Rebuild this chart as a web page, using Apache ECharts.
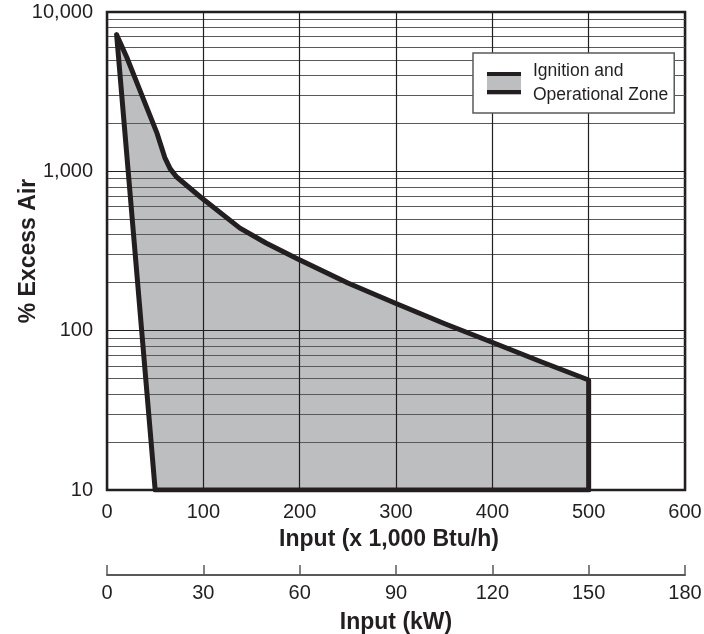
<!DOCTYPE html>
<html>
<head>
<meta charset="utf-8">
<script src="https://cdn.jsdelivr.net/npm/echarts@6/dist/echarts.min.js"></script>
<style>
html, body { margin: 0; padding: 0; background: #fff; }
#chart { width: 704px; height: 634px; }
</style>
</head>
<body>
<div id="chart"></div>
<script>
// upper boundary of the zone (x = 1,000 Btu/h, y = % excess air)
var zoneTopX = [10, 20.5, 31, 41, 52, 60, 65.5, 72, 97, 138, 165, 197, 250, 300, 350, 401, 450, 500];
var zoneTopY = [7200, 5200, 3600, 2540, 1730, 1220, 1040, 925, 690, 440, 355, 284, 199, 148, 111, 84, 64, 49];
// lower boundary, going back to the left
var zoneBottomX = [500, 50];
var zoneBottomY = [10, 10];

var btuMin = 0, btuMax = 600, btuStep = 100;
var kwMin = 0, kwMax = 180, kwStep = 30;
var airMin = 10, airMax = 10000;

var zoneName = 'Ignition and\nOperational Zone';
var ink = '#231f20';
var fill = '#bcbec0';
var font = 'Liberation Sans, Arial, sans-serif';

var zonePts = [];
zoneTopX.forEach(function (x, i) { zonePts.push([x, zoneTopY[i]]); });
zoneBottomX.forEach(function (x, i) { zonePts.push([x, zoneBottomY[i]]); });
var outline = zonePts.concat([zonePts[0]]);

var iconSvg = '<svg xmlns="http://www.w3.org/2000/svg" width="34" height="23">' +
    '<rect width="34" height="23" fill="' + fill + '"/>' +
    '<rect width="34" height="4.5" fill="' + ink + '"/>' +
    '<rect y="18.5" width="34" height="4.5" fill="' + ink + '"/></svg>';

var chart = echarts.init(document.getElementById('chart'));

var option = {
    animation: false,
    textStyle: { fontFamily: font },
    grid: {
        left: 107, right: 19, top: 12, bottom: 144,
        outerBoundsMode: 'none',
        containLabel: false,
        show: true,
        borderColor: ink,
        borderWidth: 2.5,
        backgroundColor: 'transparent'
    },
    legend: {
        left: 473, top: 53,
        orient: 'vertical',
        padding: [6, 6, 6, 14],
        backgroundColor: '#fff',
        borderColor: '#58595b',
        borderWidth: 1.5,
        borderRadius: 0,
        itemWidth: 34,
        itemHeight: 23,
        textStyle: { fontSize: 17.5, color: ink, lineHeight: 24, padding: [0, 0, 0, 7], fontFamily: font },
        data: [{ name: zoneName, icon: 'image://data:image/svg+xml;utf8,' + encodeURIComponent(iconSvg) }]
    },
    xAxis: [
        {
            type: 'value',
            min: btuMin, max: btuMax, interval: btuStep,
            axisLine: { show: false },
            axisTick: { show: false },
            axisLabel: { fontSize: 20, color: ink, margin: 12 },
            splitLine: { show: true, lineStyle: { color: ink, width: 1.2 } },
            name: 'Input (x 1,000 Btu/h)',
            nameLocation: 'middle',
            nameGap: 38,
            nameTextStyle: { fontSize: 23, fontWeight: 'bold', color: ink, padding: [0, 14, 0, 0] }
        },
        {
            type: 'value',
            position: 'bottom',
            offset: 85,
            min: kwMin, max: kwMax, interval: kwStep,
            axisLine: { show: true, lineStyle: { color: '#58595b', width: 2 } },
            axisTick: { show: true, inside: true, length: 10, lineStyle: { color: '#58595b', width: 1.5 } },
            axisLabel: { fontSize: 20, color: ink, margin: 8 },
            splitLine: { show: false },
            name: 'Input (kW)',
            nameLocation: 'middle',
            nameGap: 36,
            nameTextStyle: { fontSize: 23, fontWeight: 'bold', color: ink }
        }
    ],
    yAxis: {
        type: 'log',
        logBase: 10,
        min: airMin, max: airMax,
        axisLine: { show: false },
        axisTick: { show: false },
        axisLabel: {
            fontSize: 20, color: ink, margin: 14,
            formatter: function (v) { return Math.round(v).toLocaleString('en-US'); }
        },
        splitLine: { show: true, lineStyle: { color: ink, width: 1.2 } },
        minorTick: { show: false, splitNumber: 9 },
        minorSplitLine: { show: true, lineStyle: { color: '#58595b', width: 1 } },
        name: '% Excess Air',
        nameLocation: 'middle',
        nameMoveOverlap: false,
        nameGap: 67,
        nameTextStyle: { fontSize: 23, fontWeight: 'bold', color: ink }
    },
    series: [
        {
            name: zoneName,
            type: 'custom',
            z: -1,
            xAxisIndex: 0,
            data: [[zonePts[0][0], zonePts[0][1]]],
            renderItem: function (params, api) {
                return {
                    type: 'polygon',
                    shape: { points: zonePts.map(function (p) { return api.coord(p); }) },
                    style: { fill: fill, stroke: null }
                };
            }
        },
        {
            name: 'outline',
            type: 'line',
            z: 5,
            xAxisIndex: 0,
            data: outline,
            symbol: 'none',
            silent: true,
            lineStyle: { color: ink, width: 5, join: 'round', cap: 'round' }
        }
    ]
};

chart.setOption(option);
</script>
</body>
</html>
